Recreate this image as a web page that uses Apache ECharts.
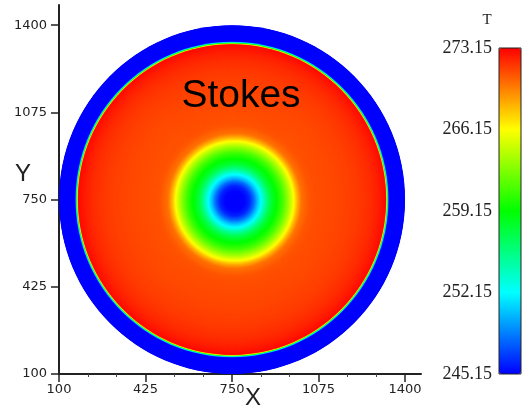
<!DOCTYPE html>
<html>
<head>
<meta charset="utf-8">
<script src="https://cdn.jsdelivr.net/npm/echarts@6/dist/echarts.min.js"></script>
<style>
  html, body { margin: 0; padding: 0; background: #fff; }
  #chart { width: 528px; height: 406px; }
</style>
</head>
<body>
<div id="chart"></div>
<script>
// Axis ticks (mm)
const axisTicks = [100, 425, 750, 1075, 1400];
const axisMinorTicks = [208.3, 316.7, 533.3, 641.7, 858.3, 966.7, 1183.3, 1291.7];

// Temperature scale (K) and its colour stops
const tempTicks = [245.15, 252.15, 259.15, 266.15, 273.15];
const tempColors = ['#0000ff', '#00ffff', '#00ff00', '#ffff00', '#ff0000'];

// Circular domain (mm)
const domainCenter = [750, 750];
const domainRadius = 650;

// Temperature versus distance from the domain centre
const wallProfileR = [0, 300, 400, 470, 520, 550, 570, 578, 580.5, 583, 585.5, 589, 650];
const wallProfileT = [270.9, 270.95, 271.2, 271.5, 271.9, 272.3, 272.7, 272.9, 266.0, 259.0, 252.0, 245.15, 245.15];

// Temperature versus distance from the cold spot centre
const spotCenter = [760, 745];
const spotProfileR = [0, 37, 56, 71, 86, 101, 116, 135, 157, 180, 202, 221, 236, 251, 280, 300];
const spotProfileT = [245.15, 245.3, 246.2, 248.0, 250.5, 252.5, 255.0, 257.5, 259.2, 261.0, 263.5, 266.0, 268.3, 270.0, 270.8, 270.95];

// Radial step between drawn iso-bands (mm)
const bandStep = 1;

function profileAt(rs, ts, r) {
  if (r >= rs[rs.length - 1]) return ts[ts.length - 1];
  for (let i = 1; i < rs.length; i++) {
    if (r <= rs[i]) {
      const f = (r - rs[i - 1]) / (rs[i] - rs[i - 1]);
      return ts[i - 1] + f * (ts[i] - ts[i - 1]);
    }
  }
  return ts[ts.length - 1];
}

// Concentric bands, outermost first: [cx, cy, T, radius]
function radialBands(center, rs, ts) {
  const out = [];
  for (let r = rs[rs.length - 1]; r > 0; r -= bandStep) {
    const t = profileAt(rs, ts, Math.max(r - bandStep / 2, 0));
    out.push([center[0], center[1], +t.toFixed(3), r]);
  }
  return out;
}

const wallBands = radialBands(domainCenter, wallProfileR, wallProfileT);
const spotBands = radialBands(spotCenter, spotProfileR, spotProfileT);

const chart = echarts.init(document.getElementById('chart'), null, { renderer: 'canvas' });

function renderBand(params, api) {
  const c = api.coord([api.value(0), api.value(1)]);
  const s = api.size([api.value(3), api.value(3)]);
  return {
    type: 'ellipse',
    z2: params.dataIndex,
    shape: { cx: c[0], cy: c[1], rx: s[0], ry: s[1] },
    style: { fill: api.visual('color') }
  };
}

const axisLineStyle = { color: '#222', width: 2 };
const tickLabelStyle = { color: '#222', fontFamily: 'DejaVu Sans', fontSize: 13, formatter: v => String(v) };

chart.setOption({
  animation: false,
  backgroundColor: '#fff',
  title: [
    { text: 'Stokes', left: 241, top: 77, textAlign: 'center', padding: 0,
      textStyle: { fontFamily: 'Liberation Sans', fontSize: 39, fontWeight: 'normal', color: '#000' } },
    { text: 'Y', left: 23, top: 162, textAlign: 'center', padding: 0,
      textStyle: { fontFamily: 'Liberation Sans', fontSize: 24, fontWeight: 'normal', color: '#222' } },
    { text: 'X', left: 253, top: 386, textAlign: 'center', padding: 0,
      textStyle: { fontFamily: 'Liberation Sans', fontSize: 24, fontWeight: 'normal', color: '#222' } },
    { text: 'T', left: 487, top: 13, textAlign: 'center', padding: 0,
      textStyle: { fontFamily: 'Liberation Serif', fontSize: 15, fontWeight: 'normal', color: '#222' } }
  ],
  grid: [
    { left: 59, top: 5, width: 362, height: 369, outerBoundsMode: 'none', containLabel: false },
    // colour bar frame, drawn above the gradient
    { left: 499, top: 48, width: 22, height: 326, outerBoundsMode: 'none', containLabel: false,
      show: true, z: 10, backgroundColor: 'transparent', borderColor: '#222', borderWidth: 1 }
  ],
  xAxis: [
    {
      type: 'value', gridIndex: 0, position: 'bottom', min: 100, max: 1460,
      axisLine: { show: true, lineStyle: axisLineStyle },
      axisTick: { show: true, inside: false, length: 8, customValues: axisTicks, lineStyle: { color: '#222', width: 1.5 } },
      axisLabel: { show: true, margin: 9, customValues: axisTicks, ...tickLabelStyle },
      splitLine: { show: false }, minorTick: { show: false }
    },
    {
      type: 'value', gridIndex: 0, position: 'bottom', min: 100, max: 1460,
      axisLine: { show: false },
      axisTick: { show: true, inside: false, length: 3, customValues: axisMinorTicks, lineStyle: { color: '#444', width: 1 } },
      axisLabel: { show: false },
      splitLine: { show: false }
    },
    { type: 'value', gridIndex: 1, show: false, min: 0, max: 1 }
  ],
  yAxis: [
    {
      type: 'value', gridIndex: 0, position: 'left', min: 100, max: 1475,
      axisLine: { show: true, lineStyle: axisLineStyle },
      axisTick: { show: true, inside: false, length: 8, customValues: axisTicks, lineStyle: { color: '#222', width: 1.5 } },
      axisLabel: { show: true, margin: 12, customValues: axisTicks, ...tickLabelStyle },
      splitLine: { show: false }
    },
    {
      type: 'value', gridIndex: 1, position: 'left', min: tempTicks[0], max: tempTicks[tempTicks.length - 1],
      axisLine: { show: false }, axisTick: { show: false }, splitLine: { show: false },
      axisLabel: {
        show: true, margin: 7, customValues: tempTicks,
        formatter: v => v.toFixed(2),
        color: '#222', fontFamily: 'Liberation Serif', fontSize: 18
      }
    }
  ],
  visualMap: {
    type: 'continuous',
    min: tempTicks[0], max: tempTicks[tempTicks.length - 1],
    dimension: 2, seriesIndex: [0, 1],
    inRange: { color: tempColors },
    orient: 'vertical', left: 499, top: 48,
    itemWidth: 22, itemHeight: 326,
    calculable: false, hoverLink: false, text: null,
    padding: 0, borderWidth: 0
  },
  series: [
    {
      type: 'custom', name: 'wall', xAxisIndex: 0, yAxisIndex: 0, z: 2,
      renderItem: renderBand, silent: true,
      data: wallBands
    },
    {
      type: 'custom', name: 'spot', xAxisIndex: 0, yAxisIndex: 0, z: 3,
      renderItem: renderBand, silent: true,
      data: spotBands
    }
  ]
});
</script>
</body>
</html>
